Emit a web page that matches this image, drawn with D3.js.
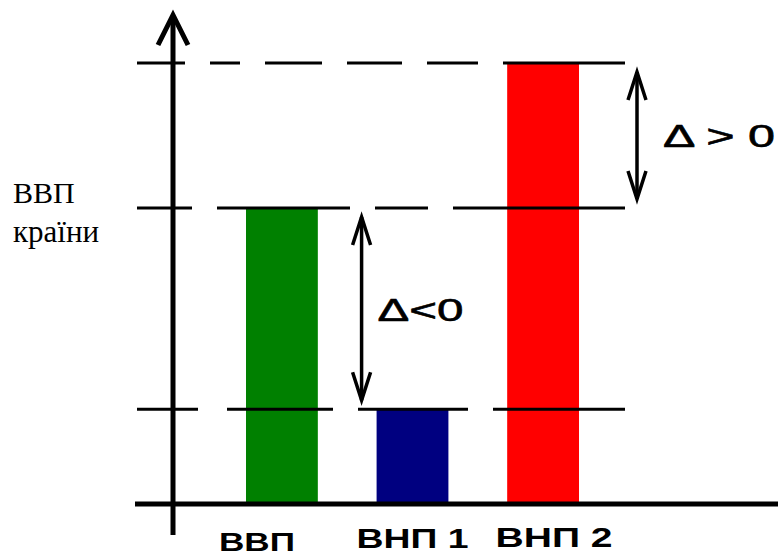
<!DOCTYPE html>
<html>
<head>
<meta charset="utf-8">
<script src="https://cdn.jsdelivr.net/npm/d3@7"></script>
<style>
  html, body { margin: 0; padding: 0; background: #fff; }
  svg { display: block; }
</style>
</head>
<body>
<script>
// ---- data ----
const categories = ["ВВП", "ВНП 1", "ВНП 2"];
const values = [100, 32, 149];
const barColors = ["#008000", "#000080", "#ff0000"];
const levelValues = [149, 100, 32];
const deltaFrom = [100, 100];
const deltaTo = [32, 149];
const deltaLabels = ["Δ<0", "Δ > 0"];
const axisTitle = ["ВВП", "країни"];

// ---- layout ----
const W = 778, H = 558;
const svg = d3.select("body").append("svg").attr("width", W).attr("height", H);
svg.append("rect").attr("width", W).attr("height", H).attr("fill", "#fff");

const y = d3.scaleLinear().domain([0, 100]).range([504, 208]);
const x = d3.scaleBand().domain(categories).range([246, 579]).paddingInner(0.45).paddingOuter(0);

const axisX = 173;

// bars
svg.selectAll("rect.bar").data(categories).join("rect")
  .attr("class", "bar")
  .attr("x", d => x(d))
  .attr("width", x.bandwidth())
  .attr("y", (d, i) => y(values[i]))
  .attr("height", (d, i) => y(0) - y(values[i]))
  .attr("fill", (d, i) => barColors[i]);

// dashed reference lines
const dashes = ["48,25,30,25,57,25,55,25,51,25,300", "55,25,133,25,53,25,300", "61,29,106,25,110,25,300"];
svg.selectAll("line.level").data(levelValues).join("line")
  .attr("class", "level")
  .attr("x1", 137).attr("x2", 625)
  .attr("y1", d => y(d)).attr("y2", d => y(d))
  .attr("stroke", "#000").attr("stroke-width", 3)
  .attr("stroke-dasharray", (d, i) => dashes[i]);

// axes
svg.append("line").attr("x1", axisX).attr("x2", axisX).attr("y1", 535).attr("y2", 17)
  .attr("stroke", "#000").attr("stroke-width", 5);
svg.append("path").attr("d", `M${axisX - 15},45 L${axisX},15 L${axisX + 15},45`)
  .attr("fill", "none").attr("stroke", "#000").attr("stroke-width", 5);
svg.append("line").attr("x1", 135).attr("x2", W).attr("y1", y(0)).attr("y2", y(0))
  .attr("stroke", "#000").attr("stroke-width", 5);

// delta arrows
const arrowX = [x("ВНП 1") - 15, x("ВНП 2") + x.bandwidth() + 58];
deltaFrom.forEach((f, i) => {
  const yA = y(f), yB = y(deltaTo[i]);
  const top = Math.min(yA, yB) + 9, bot = Math.max(yA, yB) - 9;
  const ax = arrowX[i];
  const g = svg.append("g").attr("stroke", "#000").attr("fill", "none").attr("stroke-width", 3.5);
  g.append("line").attr("x1", ax).attr("x2", ax).attr("y1", top).attr("y2", bot);
  g.append("path").attr("d", `M${ax - 9},${top + 28} L${ax},${top} L${ax + 9},${top + 28}`);
  g.append("path").attr("d", `M${ax - 9},${bot - 28} L${ax},${bot} L${ax + 9},${bot - 28}`);
  const labelLen = [86, 112][i];
  svg.append("text")
    .attr("x", ax + [16, 26][i])
    .attr("y", (top + bot) / 2 + 12)
    .attr("font-family", "Liberation Sans, Arial, sans-serif")
    .attr("font-size", 32)
    .attr("stroke", "#000").attr("stroke-width", 0.6)
    .attr("textLength", labelLen)
    .attr("lengthAdjust", "spacingAndGlyphs")
    .text(deltaLabels[i]);
});

// category labels
const labelDx = [-25, 0, 11];
const labelDy = [551, 548, 547];
const labelLen = [76, 112, 117];
const labelSize = [26, 27, 27];
svg.selectAll("text.cat").data(categories).join("text")
  .attr("class", "cat")
  .attr("x", (d, i) => x(d) + x.bandwidth() / 2 + labelDx[i] - labelLen[i] / 2)
  .attr("y", (d, i) => labelDy[i])
  .attr("font-family", "Liberation Sans, Arial, sans-serif")
  .attr("font-weight", "bold")
  .attr("font-size", (d, i) => labelSize[i])
  .attr("textLength", (d, i) => labelLen[i])
  .attr("lengthAdjust", "spacingAndGlyphs")
  .text(d => d);

// axis title
const titleSize = [30, 31];
svg.selectAll("text.title").data(axisTitle).join("text")
  .attr("class", "title")
  .attr("x", 13)
  .attr("y", (d, i) => 203 + i * 39)
  .attr("font-family", "Liberation Serif, 'Times New Roman', serif")
  .attr("font-size", (d, i) => titleSize[i])
  .text(d => d);
</script>
</body>
</html>
